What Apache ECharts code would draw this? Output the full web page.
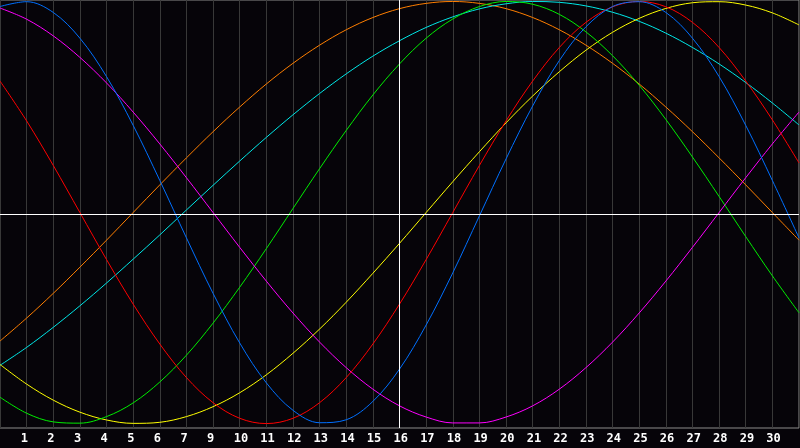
<!DOCTYPE html>
<html>
<head>
<meta charset="utf-8">
<script src="https://cdn.jsdelivr.net/npm/echarts@6/dist/echarts.min.js"></script>
<style>
html,body{margin:0;padding:0;background:#060409;}
#chart{width:800px;height:448px;}
</style>
</head>
<body>
<div id="chart"></div>
<script>
// day positions (grid lines 0..30)
var days = [0,1,2,3,4,5,6,7,8,9,10,11,12,13,14,15,16,17,18,19,20,21,22,23,24,25,26,27,28,29,30];
// tick labels shown under each inner grid line (note: the reference skips "8")
var tickLabels = ['', '1','2','3','4','5','6','7','9','10','11','12','13','14','15','16','17','18','19','20','21','22','23','24','25','26','27','28','29','30',''];

var blueValues = [97.6,99.9,94.8,82.6,64.4,41.3,15.2,-12.0,-38.3,-61.8,-80.7,-93.7,-99.6,-98.2,-89.5,-74.2,-53.3,-28.6,-1.6,25.4,50.5,72.0,88.0,97.6,99.9,94.8,82.6,64.4,41.3,15.2,-12.0];
var redValues = [62.3,43.4,22.3,0,-22.3,-43.4,-62.3,-78.2,-90.1,-97.5,-100,-97.5,-90.1,-78.2,-62.3,-43.4,-22.3,0,22.3,43.4,62.3,78.2,90.1,97.5,100,97.5,90.1,78.2,62.3,43.9,23.5];
var greenValues = [-87.5,-95.1,-99.2,-99.8,-96.7,-90.2,-80.3,-67.6,-52.4,-35.4,-17.1,1.9,20.8,38.9,55.7,70.4,82.6,91.7,97.6,100,98.7,93.9,85.6,74.3,60.3,44.1,26.3,7.6,-11.4,-30.0,-47.5];
var magentaValues = [96.9,91.6,83.7,73.5,61.4,47.6,32.5,16.5,0,-16.5,-32.5,-47.6,-61.4,-73.5,-83.7,-91.6,-96.9,-99.7,-99.7,-96.9,-91.6,-83.7,-73.5,-61.4,-47.6,-32.5,-16.5,0,16.5,32.5,47.6];
var orangeValues = [-60.9,-50,-38.3,-25.9,-13.1,0,13.1,25.9,38.3,50,60.9,70.7,79.3,86.6,92.4,96.6,99.1,100,99.1,96.6,92.4,86.6,79.3,70.7,60.9,50,38.3,25.9,13.1,0,-13.1];
var yellowValues = [-72.0,-81.3,-88.9,-94.6,-98.3,-99.9,-99.4,-96.7,-92.0,-85.4,-76.9,-66.7,-55.2,-42.5,-28.8,-14.6,0,14.6,28.8,42.5,55.2,66.7,76.9,85.4,92.0,96.7,99.4,99.9,98.3,94.6,88.9];
var cyanValues = [-72.4,-63.9,-54.4,-44.2,-33.4,-22.1,-10.6,1.2,12.9,24.4,35.6,46.3,56.4,65.7,74.1,81.4,87.7,92.7,96.5,98.9,100,99.6,97.9,94.9,90.6,85.0,78.2,70.4,61.6,51.9,41.5];

var todayDay = 15;
var zeroLevel = -0.7;

function pairs(vals){ return days.map(function(d,i){ return [d, vals[i]]; }); }

function mkSeries(name, color, vals, extra){
  var s = {
    name: name, type: 'line', data: pairs(vals), smooth: 0.35,
    showSymbol: false, symbol: 'none', silent: true,
    lineStyle: {color: color, width: 1},
    itemStyle: {color: color}
  };
  if (extra) for (var k in extra) s[k] = extra[k];
  return s;
}

var chart = echarts.init(document.getElementById('chart'), null, {renderer: 'canvas'});
chart.setOption({
  backgroundColor: '#060409',
  animation: false,
  grid: {left: 0, top: 0, right: 1, bottom: 20, show: true, borderColor: '#8c8c8c', borderWidth: 1, backgroundColor: 'transparent', containLabel: false, outerBoundsMode: 'none'},
  xAxis: {
    type: 'value', min: 0, max: 30, interval: 1,
    axisLine: {show: false}, axisTick: {show: false},
    splitLine: {show: true, lineStyle: {color: '#383838', width: 1}},
    axisLabel: {
      show: true, color: '#ffffff', fontFamily: 'DejaVu Sans Mono', fontWeight: 'bold', fontSize: 12,
      margin: 5, align: 'left', padding: [0,0,0,-6],
      showMinLabel: true, showMaxLabel: true,
      formatter: function(v){ var t = tickLabels[Math.round(v)]; return t === undefined ? '' : t; }
    }
  },
  yAxis: {
    type: 'value', min: -102.1, max: 100.7,
    show: false, splitLine: {show: false}
  },
  series: [
    mkSeries('Orange', '#ff7f00', orangeValues),
    mkSeries('Cyan', '#00e8e8', cyanValues),
    mkSeries('Yellow', '#ffff00', yellowValues),
    mkSeries('Green', '#00ee00', greenValues),
    mkSeries('Magenta', '#ff00ff', magentaValues),
    mkSeries('Red', '#ff0000', redValues),
    mkSeries('Blue', '#0070ff', blueValues, {
      markLine: {
        silent: true, symbol: 'none', animation: false,
        label: {show: false},
        lineStyle: {color: '#ffffff', width: 1, type: 'solid'},
        data: [{xAxis: todayDay}, {yAxis: zeroLevel}]
      }
    })
  ]
});
</script>
</body>
</html>
